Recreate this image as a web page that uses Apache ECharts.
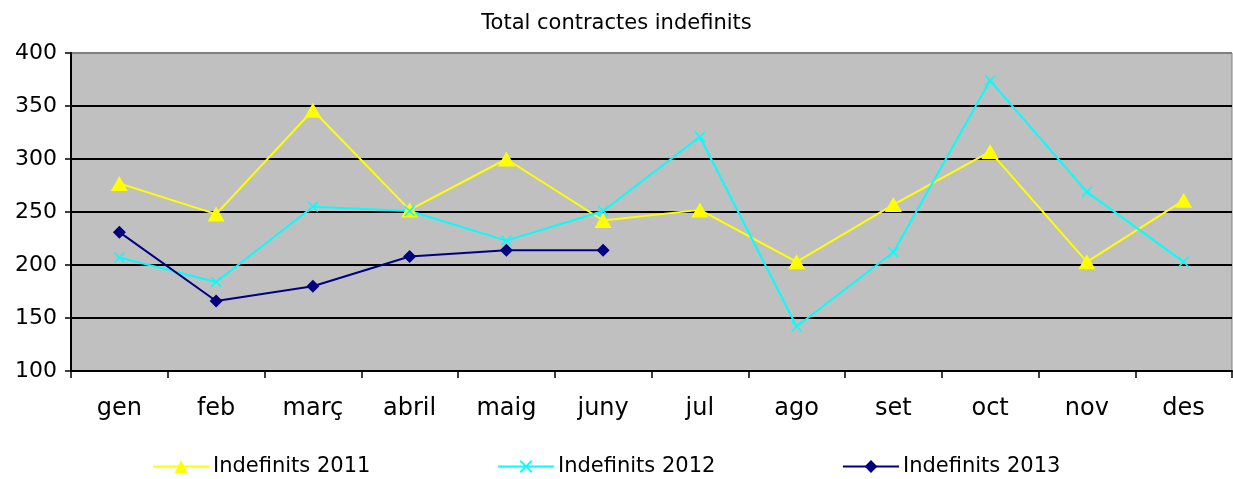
<!DOCTYPE html>
<html><head><meta charset="utf-8">
<script src="https://cdn.jsdelivr.net/npm/echarts@6/dist/echarts.min.js"></script>
<style>html,body{margin:0;padding:0;background:#fff}#c{width:1233px;height:479px}</style>
</head><body><div id="c"></div>
<script>
const categories = ['gen','feb','març','abril','maig','juny','jul','ago','set','oct','nov','des'];
const indef2011 = [277, 248, 346, 252, 300, 242, 252, 203, 257, 307, 203, 261];
const indef2012 = [207, 184, 255, 251, 223, 251, 321, 142, 212, 374, 269, 203];
const indef2013 = [231, 166, 180, 208, 214, 214, null, null, null, null, null, null];
const yTicks = {min: 100, max: 400, interval: 50};
const names = ['Indefinits 2011', 'Indefinits 2012', 'Indefinits 2013'];

const crossPath = 'path://M0,1 L1,0 L5,4 L9,0 L10,1 L6,5 L10,9 L9,10 L5,6 L1,10 L0,9 L4,5 Z';
const chart = echarts.init(document.getElementById('c'), null, {renderer: 'canvas'});
const legendText = {fontFamily: 'DejaVu Sans', fontSize: 21, color: '#000', padding: [0, 0, 0, -1]};
function mkLegend(name, left) {
  return {data: [name], left: left, top: 451, itemWidth: 56, itemHeight: 16, itemGap: 5,
    textStyle: legendText, selectedMode: false};
}
chart.setOption({
  animation: false,
  backgroundColor: '#fff',
  title: {text: 'Total contractes indefinits', left: 'center', top: 8,
    textStyle: {fontFamily: 'DejaVu Sans', fontSize: 21, fontWeight: 'normal', color: '#000'}},
  legend: [mkLegend(names[0], 147), mkLegend(names[1], 492), mkLegend(names[2], 837)],
  grid: {left: 71, right: 1, top: 53, bottom: 108, show: true, backgroundColor: '#C0C0C0',
    borderColor: '#808080', borderWidth: 1, containLabel: false},
  xAxis: {type: 'category', data: categories, boundaryGap: true,
    axisLine: {lineStyle: {color: '#000', width: 2}},
    axisTick: {show: true, interval: 0, length: 7, lineStyle: {color: '#000', width: 1.5}},
    axisLabel: {interval: 0, margin: 26, fontFamily: 'DejaVu Sans', fontSize: 24, color: '#000'}},
  yAxis: {type: 'value', min: yTicks.min, max: yTicks.max, interval: yTicks.interval,
    axisLine: {show: true, lineStyle: {color: '#000', width: 2}},
    axisTick: {show: true, length: 6, lineStyle: {color: '#000', width: 1.5}},
    axisLabel: {margin: 14, fontFamily: 'DejaVu Sans', fontSize: 22, color: '#000'},
    splitLine: {show: true, lineStyle: {width: 2,
      color: ['#000','#000','#000','#000','#000','#000','#808080']}}},
  series: [
    {name: names[0], type: 'line', data: indef2011, symbol: 'triangle', symbolSize: [17, 15],
      lineStyle: {color: '#FFFF00', width: 2}, itemStyle: {color: '#FFFF00'}},
    {name: names[1], type: 'line', data: indef2012, symbol: crossPath, symbolSize: 11,
      lineStyle: {color: '#00FFFF', width: 2}, itemStyle: {color: '#00FFFF'}},
    {name: names[2], type: 'line', data: indef2013, symbol: 'diamond', symbolSize: 13,
      lineStyle: {color: '#000080', width: 2}, itemStyle: {color: '#000080'}}
  ]
});
</script></body></html>
